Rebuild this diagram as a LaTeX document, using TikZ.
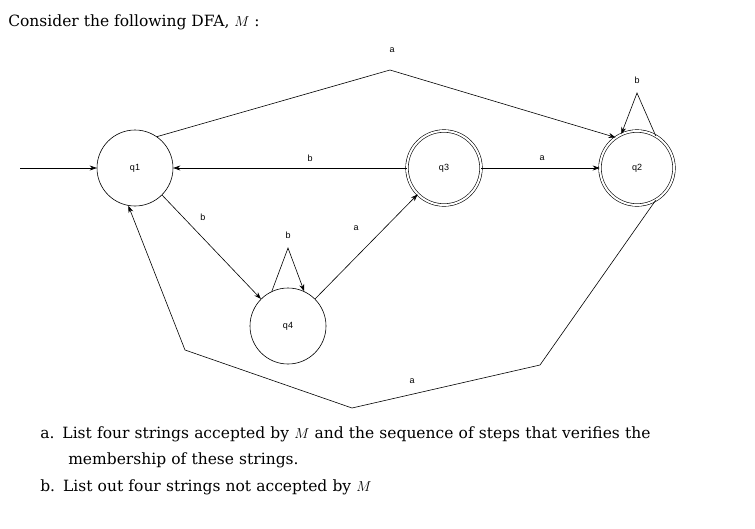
\documentclass[tikz,border=0pt]{standalone}
\usepackage{fontspec}
\setmainfont{DejaVu Serif}
\newfontfamily\lab{Liberation Sans}
\usetikzlibrary{arrows.meta}
\begin{document}
\begin{tikzpicture}[x=1pt,y=-1pt,line width=0.6pt,
  st/.style={circle,draw,minimum size=76pt,inner sep=0pt,font=\lab\fontsize{9}{10}\selectfont},
  acc/.style={st,double,double distance=2pt,minimum size=74pt},
  lb/.style={font=\lab\fontsize{9}{10}\selectfont},
  ar/.style={-{Stealth[length=7pt,width=5pt]}}]
\useasboundingbox (0,0) rectangle (755,528);
\node[anchor=west,font=\fontsize{15.5}{18}\selectfont,inner sep=2pt] (t) at (6,22) {Consider the following DFA, $M$ :};
\node[st] (q1) at (135,168) {q1};
\node[acc] (q3) at (444,168) {q3};
\node[acc] (q2) at (637,168) {q2};
\node[st] (q4) at (288,326) {q4};
\coordinate (s) at (20,168);
\draw[ar] (s) -- (q1);
\draw[ar] (q1.55) -- (390,70) -- (q2.125);
\node[lb] (la1) at (392,50) {a};
\draw[ar] (q2.60) -- (637,93) -- (q2.115);
\node[lb] (lb2) at (637,80) {b};
\draw[ar] (q3) -- (q2);
\node[lb] (la2) at (542,158) {a};
\draw[ar] (q3) -- (q1);
\node[lb] (lb1) at (310,158) {b};
\draw[ar] (q1.-45) -- (q4.135);
\node[lb] (lb3) at (203,217) {b};
\draw[ar] (q4.115) -- (288,248) -- (q4.65);
\node[lb] (lb4) at (288,235) {b};
\draw[ar] (q4.45) -- (q3.-135);
\node[lb] (la3) at (356,228) {a};
\draw[ar] (q2.-60) -- (540,365) -- (352,408) -- (185,350) -- (q1.-100);
\node[lb] (la4) at (412,381) {a};
\node[anchor=north west,text width=700pt,font=\fontsize{15.5}{26.5}\selectfont,align=left,inner sep=0pt] (txt) at (40,426) {%
a.\hspace{8pt}List four strings accepted by $M$ and the sequence of steps that verifies the\\
\hspace{28pt}membership of these strings.\\
b.\hspace{8pt}List out four strings not accepted by $M$};
\end{tikzpicture}
\end{document}
